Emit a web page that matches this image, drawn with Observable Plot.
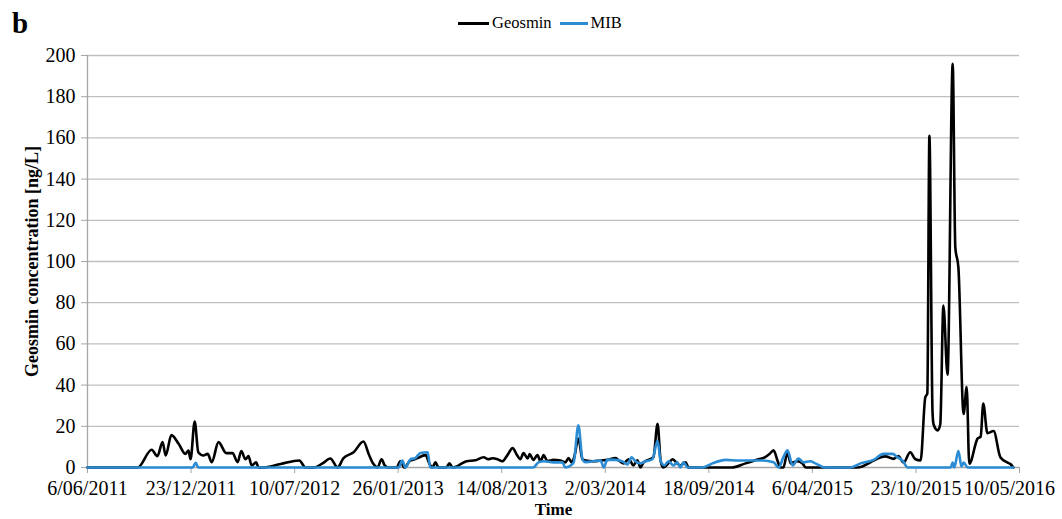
<!DOCTYPE html>
<html><head><meta charset="utf-8">
<script src="https://cdn.jsdelivr.net/npm/d3@7"></script>
<script src="https://cdn.jsdelivr.net/npm/@observablehq/plot@0.6"></script>
<style>
body{margin:0;background:#fff;}
#wrap{position:relative;width:1062px;height:519px;font-family:"Liberation Serif",serif;color:#000;}
#wrap svg, #wrap svg text{font-family:"Liberation Serif",serif !important;}
#panel{position:absolute;left:12px;top:7px;font-weight:bold;font-size:29px;font-family:"Liberation Serif",serif;}
#legend{position:absolute;top:13px;left:458px;font-size:16.5px;display:flex;align-items:center;white-space:nowrap;font-family:"Liberation Serif",serif;}
#legend .sw{display:inline-block;width:31px;height:3px;margin-right:3px;}
</style></head><body>
<div id="wrap"><div id="chart"></div><div id="panel">b</div>
<div id="legend"><span class="sw" style="background:#000"></span><span>Geosmin</span><span style="display:inline-block;width:8px"></span><span class="sw" style="background:#2b8cd4;width:28px"></span><span>MIB</span></div>
</div>
<script>
const geosminDates = ["2011-06-06","2011-09-11","2011-10-08","2011-10-19","2011-10-29","2011-11-04","2011-11-15","2011-11-29","2011-12-12","2011-12-18","2011-12-22","2011-12-30","2012-01-06","2012-01-16","2012-01-24","2012-02-01","2012-02-14","2012-02-29","2012-03-12","2012-03-22","2012-03-29","2012-04-06","2012-04-12","2012-04-18","2012-04-27","2012-05-01","2012-05-09","2012-06-13","2012-07-19","2012-07-31","2012-08-16","2012-09-02","2012-09-17","2012-10-01","2012-10-12","2012-11-01","2012-11-20","2012-11-30","2012-12-09","2012-12-17","2012-12-25","2012-12-31","2013-01-07","2013-01-23","2013-01-30","2013-02-07","2013-02-17","2013-02-27","2013-03-08","2013-03-20","2013-03-27","2013-04-02","2013-04-08","2013-04-14","2013-04-29","2013-05-05","2013-05-11","2013-05-19","2013-05-26","2013-06-07","2013-06-24","2013-07-10","2013-07-19","2013-07-27","2013-08-06","2013-08-15","2013-08-25","2013-09-04","2013-09-13","2013-09-19","2013-09-25","2013-10-03","2013-10-07","2013-10-14","2013-10-22","2013-10-28","2013-11-03","2013-11-10","2013-11-22","2013-12-05","2013-12-15","2013-12-21","2013-12-27","2014-01-01","2014-01-09","2014-01-17","2014-01-23","2014-02-07","2014-02-21","2014-03-06","2014-03-22","2014-03-27","2014-04-06","2014-04-16","2014-04-20","2014-04-25","2014-05-03","2014-05-09","2014-05-15","2014-05-24","2014-06-03","2014-06-11","2014-06-17","2014-06-22","2014-07-02","2014-07-10","2014-07-19","2014-07-25","2014-08-04","2014-08-10","2014-11-01","2014-11-28","2014-12-23","2015-01-05","2015-01-13","2015-01-21","2015-01-29","2015-02-03","2015-02-09","2015-02-17","2015-02-23","2015-02-28","2015-03-08","2015-03-18","2015-03-24","2015-07-02","2015-07-27","2015-08-02","2015-08-25","2015-09-10","2015-09-19","2015-09-29","2015-10-12","2015-10-22","2015-11-01","2015-11-10","2015-11-14","2015-11-18","2015-11-24","2015-11-26","2015-12-04","2015-12-09","2015-12-15","2015-12-23","2016-01-02","2016-01-07","2016-01-13","2016-01-23","2016-01-29","2016-02-03","2016-02-19","2016-02-25","2016-03-01","2016-03-09","2016-03-21","2016-04-03","2016-04-17","2016-04-23","2016-04-28"];
const geosminValues = [0,0,8.6,5.5,12.3,5.8,15.7,11.5,6.6,8.2,4,22.3,7.4,5.8,6.6,2.6,12.3,7,7,2.6,8,4,5.5,1,2.5,0,0,1.7,3.4,0,0,2,4.4,0,4.4,7.4,12.6,6.6,1.8,0,4,1,0,0,3,0,3,4,5,6,2,0,2.5,0,0,2,0,0.5,1.5,3,3.5,5,4,4.5,4,3,6,9.4,5.8,4,7,4.4,6.5,3.7,6,3,6,3.2,3.7,3.4,2.5,4.6,2.5,5,14,4,3.4,3,3.4,3.7,4.6,3.7,2,4,3,1,3.5,0,2.5,3.7,5,21.2,3,0,2,4,2,1,2.5,0,0,2,4,5,6.5,8.3,3,0,0,7.4,2,2.5,3,2,0,0,2.5,3.4,5.4,4.2,5.6,2.4,7.4,4,3.4,34,36,161,27,21,18,21,78.6,45,196,107,97,26,39,1.8,14,15,31,16.7,17.7,5,2.4,1.6,0];

const mibDates = ["2011-06-06","2011-12-26","2012-01-01","2012-01-06","2013-01-27","2013-02-03","2013-02-09","2013-02-19","2013-02-28","2013-03-10","2013-03-24","2013-03-29","2013-10-14","2013-10-24","2013-11-03","2013-11-22","2013-12-09","2013-12-15","2013-12-25","2013-12-31","2014-01-09","2014-01-17","2014-01-23","2014-02-21","2014-02-27","2014-03-06","2014-03-22","2014-04-04","2014-04-14","2014-04-22","2014-04-29","2014-05-09","2014-05-19","2014-06-01","2014-06-11","2014-06-17","2014-06-24","2014-07-02","2014-07-12","2014-07-19","2014-07-25","2014-07-31","2014-08-08","2014-09-06","2014-09-25","2014-10-20","2014-11-14","2014-12-11","2014-12-31","2015-01-21","2015-01-31","2015-02-09","2015-02-17","2015-02-27","2015-03-10","2015-03-20","2015-04-02","2015-04-12","2015-05-01","2015-06-19","2015-07-08","2015-08-02","2015-08-21","2015-09-08","2015-09-17","2015-09-27","2015-10-07","2015-12-29","2016-01-02","2016-01-05","2016-01-13","2016-01-19","2016-01-23","2016-01-31","2016-04-28"];
const mibValues = [0,0,2.3,0,0,3.4,0,4,4.6,7,7.4,0,0,2.5,3,2.5,2.5,0,1,2.5,20.5,4,2.6,3.4,0,3.8,3.7,3,1.5,5,3,2,3,4,13,3,1,3,1,2.5,0,2.5,0,0,2,3.7,3.4,3.4,3.4,2.5,0,5,8.3,1,4.4,2.5,3,2,0,0,2,3.7,6.6,6.6,5,3.4,0,0,2.4,0,8,0.5,2.4,0,0];

const xTickDates = ["2011-06-06","2011-12-23","2012-07-10","2013-01-26","2013-08-14","2014-03-02","2014-09-18","2015-04-06","2015-10-23","2016-05-10"];
const yTicks = [0,20,40,60,80,100,120,140,160,180,200];
const yLabel = "Geosmin concentration [ng/L]";
const xLabel = "Time";

const parse = d3.utcParse("%Y-%m-%d");
const geo = geosminDates.map((d,i)=>({date:parse(d), value:geosminValues[i]}));
const mib = mibDates.map((d,i)=>({date:parse(d), value:mibValues[i]}));
const xt = xTickDates.map(parse);
const fmt = d => `${d.getUTCDate()}/${String(d.getUTCMonth()+1).padStart(2,"0")}/${d.getUTCFullYear()}`;

const chart = Plot.plot({
  width:1062, height:519,
  marginLeft:87, marginRight:43, marginTop:55, marginBottom:52,
  style:{fontFamily:"Liberation Serif, serif", fontSize:"20px", color:"#000", background:"transparent", overflow:"visible"},
  x:{type:"utc", domain:[xt[0], xt[xt.length-1]]},
  y:{domain:[0,200]},
  marks:[
    Plot.gridY(yTicks.slice(1), {stroke:"#bfbfbf", strokeOpacity:1, strokeWidth:1.3}),
    Plot.ruleX([xt[0]], {stroke:"#a6a6a6", strokeWidth:1.3}),
    Plot.ruleY([0], {stroke:"#a6a6a6", strokeWidth:1.3}),
    Plot.axisX(xt, {tickSize:6, stroke:"#a6a6a6", text:null, label:null}),
    Plot.axisX(xt.slice(0, -1), {tickFormat:fmt, tickSize:0, tickPadding:13, label:null, fontSize:20}),
    Plot.axisX(xt.slice(-1), {tickFormat:fmt, tickSize:0, tickPadding:13, dx:-10, label:null, fontSize:20}),
    Plot.axisY(yTicks, {tickSize:6, tickPadding:6, stroke:"#a6a6a6", label:null, fontSize:20}),
    Plot.line(geo, {x:"date", y:"value", stroke:"#000", strokeWidth:2.6, curve:"monotone-x"}),
    Plot.line(mib, {x:"date", y:"value", stroke:"#2b8cd4", strokeWidth:2.6, curve:"monotone-x"}),
    Plot.text([yLabel], {frameAnchor:"left", textAnchor:"middle", lineAnchor:"middle", dx:-55, rotate:-90, fontWeight:"bold", fontSize:18}),
    Plot.text([xLabel], {frameAnchor:"bottom", textAnchor:"middle", lineAnchor:"middle", dy:42, fontWeight:"bold", fontSize:17})
  ]
});
document.getElementById("chart").appendChild(chart);
</script>
</body></html>
